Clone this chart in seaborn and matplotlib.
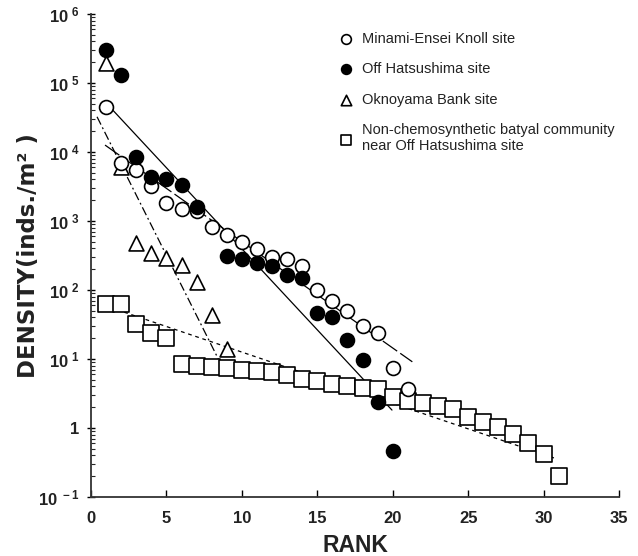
import numpy as np
import pandas as pd
import matplotlib
matplotlib.use("Agg")
import matplotlib.pyplot as plt
import seaborn as sns
from matplotlib.ticker import FixedLocator, FixedFormatter, LogLocator, NullFormatter

# ---------------- data ----------------
minami_rank = list(range(1, 22))
minami_density = [45000, 6900, 5500, 3200, 1800, 1500, 1400, 810, 630, 500, 390,
                  300, 280, 220, 100, 70, 50, 30, 24, 7.5, 3.7]

hatsu_rank = [1, 2, 3, 4, 5, 6, 7, 9, 10, 11, 12, 13, 14, 15, 16, 17, 18, 19, 20]
hatsu_density = [300000, 130000, 8500, 4300, 4000, 3300, 1600, 310, 280, 245, 225,
                 165, 150, 47, 40, 19, 9.8, 2.4, 0.47]

okno_rank = list(range(1, 10))
okno_density = [195000, 6000, 480, 345, 290, 230, 130, 44, 14]

nonchemo_rank = list(range(1, 32))
nonchemo_density = [63, 63, 32, 24, 20, 8.5, 7.9, 7.6, 7.3, 6.9, 6.7, 6.5, 5.9, 5.1,
                    4.8, 4.3, 4.1, 3.8, 3.7, 2.8, 2.5, 2.3, 2.1, 1.9, 1.45, 1.23,
                    1.03, 0.81, 0.60, 0.42, 0.20]

# regression line endpoints (rank, density)
fit_hatsu_x = [1.26, 19.95]
fit_hatsu_y = [44700, 1.82]
fit_minami_x = [0.93, 21.3]
fit_minami_y = [12600, 9.1]
fit_okno_x = [0.4, 8.9]
fit_okno_y = [32400, 6.3]
fit_nonchemo_x = [1.26, 30.9]
fit_nonchemo_y = [56, 0.355]

legend_labels = ["Minami-Ensei Knoll site", "Off Hatsushima site", "Oknoyama Bank site",
                 "Non-chemosynthetic batyal community\nnear Off Hatsushima site"]
x_ticks = [0, 5, 10, 15, 20, 25, 30, 35]
y_ticks = [1e-1, 1, 1e1, 1e2, 1e3, 1e4, 1e5, 1e6]
y_ticklabels = [r"$\mathbf{10^{\ -1}}$", r"$\mathbf{1}$", r"$\mathbf{10^{\ 1}}$",
                r"$\mathbf{10^{\ 2}}$", r"$\mathbf{10^{\ 3}}$", r"$\mathbf{10^{\ 4}}$",
                r"$\mathbf{10^{\ 5}}$", r"$\mathbf{10^{\ 6}}$"]

# ---------------- plot ----------------
sns.set_theme(style="white")
plt.rcParams['font.family'] = ['Liberation Sans', 'DejaVu Sans']
plt.rcParams['mathtext.fontset'] = 'custom'
plt.rcParams['mathtext.rm'] = 'Liberation Sans'
plt.rcParams['mathtext.bf'] = 'Liberation Sans:bold'

fig = plt.figure(figsize=(6.38, 5.56), dpi=100)
ax = fig.add_axes([91/638, 1-497/556, (619-91)/638, (497-14)/556])
ax.set_yscale('log')

lw_fit = 0.9
sns.lineplot(x=fit_hatsu_x, y=fit_hatsu_y, ax=ax, color='black', lw=lw_fit, linestyle='-')
sns.lineplot(x=fit_minami_x, y=fit_minami_y, ax=ax, color='black', lw=lw_fit,
             linestyle=(0, (14, 3)))
sns.lineplot(x=fit_okno_x, y=fit_okno_y, ax=ax, color='black', lw=lw_fit,
             linestyle=(0, (7, 2.5, 1.5, 2.5)))
sns.lineplot(x=fit_nonchemo_x, y=fit_nonchemo_y, ax=ax, color='black', lw=lw_fit,
             linestyle=(0, (3, 3)))

ms = 100
ew = 1.2
sns.scatterplot(x=nonchemo_rank, y=nonchemo_density, ax=ax, marker='s', s=125,
                facecolor='white', edgecolor='black', linewidth=ew, label=legend_labels[3], zorder=3)
sns.scatterplot(x=okno_rank, y=okno_density, ax=ax, marker='^', s=115,
                facecolor='white', edgecolor='black', linewidth=ew, label=legend_labels[2], zorder=3)
sns.scatterplot(x=minami_rank, y=minami_density, ax=ax, marker='o', s=ms,
                facecolor='white', edgecolor='black', linewidth=ew, label=legend_labels[0], zorder=4)
sns.scatterplot(x=hatsu_rank, y=hatsu_density, ax=ax, marker='o', s=ms,
                color='black', edgecolor='black', linewidth=ew, label=legend_labels[1], zorder=5)

ax.set_xlim(0, 35)
ax.set_ylim(1e-1, 1e6)

ax.xaxis.set_major_locator(FixedLocator(x_ticks))
ax.set_xticklabels([str(t) for t in x_ticks], fontweight='bold', fontsize=12)
ax.yaxis.set_major_locator(FixedLocator(y_ticks))
ax.yaxis.set_major_formatter(FixedFormatter(y_ticklabels))
ax.yaxis.set_minor_locator(LogLocator(base=10, subs=np.arange(2, 10)))
ax.yaxis.set_minor_formatter(NullFormatter())
for lab in ax.get_yticklabels():
    lab.set_fontsize(12)

ax.tick_params(axis='x', which='major', direction='in', length=5, width=1, colors='black',
               labelcolor='#222222', pad=10)
ax.tick_params(axis='y', which='major', direction='inout', length=6, width=1, colors='black',
               labelcolor='#222222', pad=5, left=True)
ax.tick_params(axis='y', which='minor', direction='in', length=3, width=0.8, left=True)
ax.tick_params(bottom=True, left=True)

for s in ['top', 'right']:
    ax.spines[s].set_visible(False)
for s in ['left', 'bottom']:
    ax.spines[s].set_color('#333333')
    ax.spines[s].set_linewidth(1.3)

ax.set_xlabel("RANK", fontsize=16.5, fontweight='bold', color='#222222')
ax.xaxis.set_label_coords((355 - 91) / 528, (497 - 534) / 483)
ax.set_ylabel("DENSITY(inds./m\u00b2 )", fontsize=16.5, fontweight='bold',
              color='#222222', family=['DejaVu Sans'])
ax.yaxis.set_label_coords((40 - 91) / 528, (497 - 256) / 483)

handles, labels = ax.get_legend_handles_labels()
order = [labels.index(l) for l in legend_labels]
leg = ax.legend([handles[i] for i in order], [labels[i] for i in order],
                loc='upper left', bbox_to_anchor=(0.458, 0.975), frameon=False,
                fontsize=10.5, handlelength=1.0, handletextpad=0.6, labelspacing=1.12,
                markerscale=0.7, borderaxespad=0)
for t in leg.get_texts():
    t.set_color('#222222')

fig.savefig("out.png", dpi=100)
